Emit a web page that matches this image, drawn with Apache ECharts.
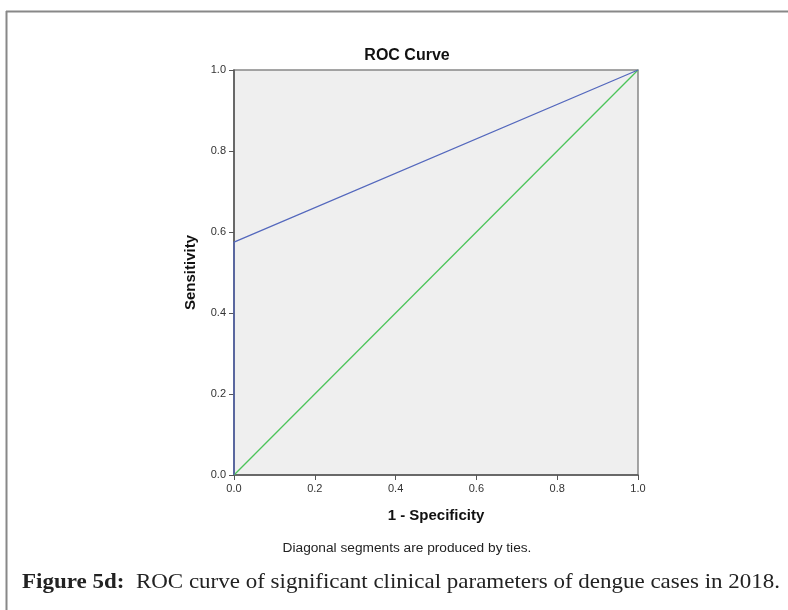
<!DOCTYPE html>
<html>
<head>
<meta charset="utf-8">
<script src="https://cdn.jsdelivr.net/npm/echarts@6/dist/echarts.min.js"></script>
<style>
  html, body { margin: 0; padding: 0; background: #fff; }
  #chart { width: 788px; height: 610px; }
</style>
</head>
<body>
<div id="chart"></div>
<script>
// ROC curve points (1 - specificity, sensitivity)
var specPoints = [0, 0, 1];
var sensPoints = [0, 0.575, 1];
// reference diagonal
var refX = [0, 1];
var refY = [0, 1];

var chart = echarts.init(document.getElementById('chart'));

var sansFont = '"Liberation Sans", Arial, sans-serif';
var serifFont = '"Liberation Serif", "DejaVu Serif", serif';

function pairs(xs, ys) {
    return xs.map(function (x, i) { return [x, ys[i]]; });
}

var option = {
    backgroundColor: '#fff',
    animation: false,
    grid: {
        left: 234, top: 70, width: 404, height: 405,
        show: true,
        backgroundColor: '#efefef',
        borderColor: '#888',
        borderWidth: 1.5
    },
    xAxis: {
        type: 'value', min: 0, max: 1, interval: 0.2,
        name: '1 - Specificity',
        nameLocation: 'middle',
        nameGap: 33,
        nameTextStyle: { fontFamily: sansFont, fontSize: 15, fontWeight: 'bold', color: '#111' },
        axisLine: { lineStyle: { color: '#555', width: 1.5 } },
        axisTick: { length: 5, lineStyle: { color: '#555' } },
        splitLine: { show: false },
        axisLabel: {
            margin: 8, fontFamily: sansFont, fontSize: 11, color: '#333',
            formatter: function (v) { return v.toFixed(1); }
        }
    },
    yAxis: {
        type: 'value', min: 0, max: 1, interval: 0.2,
        name: 'Sensitivity',
        nameLocation: 'middle',
        nameGap: 36,
        nameTextStyle: { fontFamily: sansFont, fontSize: 15, fontWeight: 'bold', color: '#111' },
        axisLine: { lineStyle: { color: '#555', width: 1.5 } },
        axisTick: { length: 5, lineStyle: { color: '#555' } },
        splitLine: { show: false },
        axisLabel: {
            margin: 8, fontFamily: sansFont, fontSize: 11, color: '#333',
            formatter: function (v) { return v.toFixed(1); }
        }
    },
    series: [
        {
            name: 'Reference Line',
            type: 'line',
            data: pairs(refX, refY),
            symbol: 'none',
            lineStyle: { color: '#4cc45a', width: 1.3 }
        },
        {
            name: 'ROC',
            type: 'line',
            data: pairs(specPoints, sensPoints),
            symbol: 'none',
            lineStyle: { color: '#5468bd', width: 1.3 }
        }
    ],
    graphic: [
        // figure frame
        { type: 'line', shape: { x1: 6, y1: 11.5, x2: 788, y2: 11.5 }, style: { stroke: '#888', lineWidth: 2 } },
        { type: 'line', shape: { x1: 6.5, y1: 11, x2: 6.5, y2: 610 }, style: { stroke: '#888', lineWidth: 2 } },
        {
            type: 'text', x: 407, y: 56,
            style: {
                text: 'ROC Curve', align: 'center', verticalAlign: 'middle',
                font: 'bold 16px ' + sansFont, fill: '#111'
            }
        },
        {
            type: 'text', x: 407, y: 548,
            style: {
                text: 'Diagonal segments are produced by ties.', align: 'center', verticalAlign: 'middle',
                font: '13.7px ' + sansFont, fill: '#222'
            }
        },
        {
            type: 'text', x: 22, y: 582, scaleX: 1.045,
            style: {
                text: '{b|Figure 5d:}  ROC curve of significant clinical parameters of dengue cases in 2018.',
                verticalAlign: 'middle',
                rich: {
                    b: { fontFamily: serifFont, fontSize: 22, fontWeight: 'bold', fill: '#222' }
                },
                fontFamily: serifFont, fontSize: 22, fill: '#222'
            }
        }
    ]
};

option && chart.setOption(option);
</script>
</body>
</html>
